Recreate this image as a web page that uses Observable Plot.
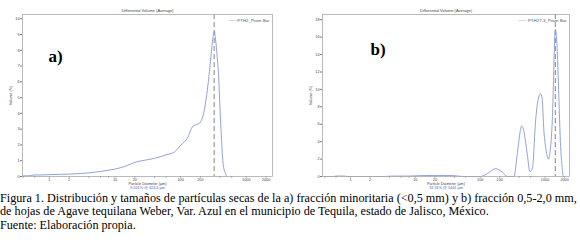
<!DOCTYPE html>
<html><head><meta charset="utf-8">
<script src="https://cdn.jsdelivr.net/npm/d3@7"></script>
<script src="https://cdn.jsdelivr.net/npm/@observablehq/plot@0.6"></script>
<style>
body{margin:0;background:#fff;}
#wrap{position:relative;width:580px;height:245px;overflow:hidden;}
#charts{display:flex;}
#cap{position:absolute;left:0;top:192px;font-family:"Liberation Serif","Times New Roman",serif;font-size:12.2px;line-height:13.3px;color:#000;white-space:nowrap;}
</style></head>
<body><div id="wrap"><div id="charts"></div><div id="cap"></div></div>
<script>
// ---- data ----
const xTicks = [0.4,0.6,1,2,4,6,8,10,20,40,60,100,200,400,600,1000,2000];
const aDiam = [0.4,0.5,0.6,0.8,1,2,3,4,6,8,10,15,20,30,40,60,80,100,125,155,178,200,224,250,290,310,326,340,360,380,395,413,443,480,510];
const aVol  = [0.04,0.05,0.1,0.1,0.12,0.15,0.19,0.23,0.32,0.4,0.47,0.68,0.9,1.05,1.15,1.38,1.55,1.98,2.4,3.2,3.3,3.45,4.0,5.2,7.6,8.8,9.2,8.7,7.6,6.3,4.6,2.9,0.84,0.2,0];
const bDiam = [0.4,0.55,0.6,0.7,0.8,0.9,1,2,3.5,4,6,8,10,12,20,30,40,45,60,100,130,172,220,261,330,373,410,434,469,500,531,584,640,714,790,853,900,959,1050,1122,1200,1291,1350,1400,1441,1490,1550,1600,1740,1850,1908,2000];
const bVol  = [0,0,0.05,0.06,0.05,0,0,0,0,0.04,0.05,0.05,0.08,0.1,0.12,0.12,0.1,0.05,0,0,0.35,0.9,0.5,0,0,2.6,5.0,5.8,5.25,4.0,2.6,0.55,1.0,6.4,9.0,9.5,9.0,5.25,2.8,2.0,3.0,6.4,11,15.5,16.9,16.2,14,11,3.3,0.8,0,0];
const panels = [
  {label:"a)", legend:"PTH2_Prom Bar", mode:"9.201% @ 324.4 µm", modeX:324.4,
   diam:aDiam, vol:aVol, yTicks:d3.range(0,11,1), yMax:10.27, xDom:[0.39,2509],
   mL:22, mR:18, labDx:26, labDy:47},
  {label:"b)", legend:"PTH27-3_Prom Bar", mode:"16.91% @ 1441 µm", modeX:1441,
   diam:bDiam, vol:bVol, yTicks:d3.range(0,19,2), yMax:18.6, xDom:[0.37,2380],
   mL:32, mR:11, labDx:48, labDy:40}
];
const title = "Differential Volume (Average)";
const xLabel = "Particle Diameter (µm)";
const yLabel = "Volume (%)";
const caption = [
 "Figura 1. Distribución y tamaños de partículas secas de la a) fracción minoritaria (<0,5 mm) y b) fracción 0,5-2,0 mm,",
 "de hojas de Agave tequilana Weber, Var. Azul en el municipio de Tequila, estado de Jalisco, México.",
 "Fuente: Elaboración propia."
];
const lineColor = "#8797d6";
// ---- charts ----
for (const p of panels) {
  const rows = p.diam.map((d,i)=>({d, v:p.vol[i]}));
  const chart = Plot.plot({
    width:290, height:197, marginLeft:p.mL, marginRight:p.mR, marginTop:14, marginBottom:21,
    style:{fontSize:"4px", fontFamily:"Liberation Sans, Arial, sans-serif", background:"transparent", overflow:"visible"},
    x:{type:"log", domain:p.xDom},
    y:{domain:[0,p.yMax]},
    marks:[
      Plot.axisX({ticks:xTicks, tickFormat:d=>String(d), tickSize:1.5, tickPadding:0.5, fontSize:3.8, stroke:"#777", fill:"#444", label:null}),
      Plot.axisY({ticks:p.yTicks, tickSize:2, tickPadding:1, fontSize:3.8, stroke:"#777", fill:"#444",
                  label:yLabel, labelAnchor:"center", labelArrow:"none", labelOffset:13}),
      Plot.ruleX([p.modeX], {stroke:"#9a9a9a", strokeWidth:1.2, strokeDasharray:"5,3"}),
      Plot.line(rows, {x:"d", y:"v", stroke:lineColor, strokeWidth:0.9, curve:"monotone-x"}),
      Plot.frame({stroke:"#aaa", strokeWidth:0.8}),
      Plot.text([title], {frameAnchor:"top", dy:-5, fontSize:4, fill:"#444"}),
      Plot.text([p.legend], {frameAnchor:"top-right", dx:-3, dy:4, textAnchor:"end", fontSize:4.4, fill:"#555"}),
      Plot.text(["───"], {frameAnchor:"top-right", dx:-4 - p.legend.length*2.45, dy:4, textAnchor:"end", fontSize:4.4,
                fill:lineColor, fontFamily:"DejaVu Sans, sans-serif"}),
      Plot.text([xLabel], {frameAnchor:"bottom", dy:8.3, fontSize:3.8, fill:"#444"}),
      Plot.text([p.mode], {frameAnchor:"bottom", dy:12.6, fontSize:3.8, fill:"#3b5fc8"}),
      Plot.text([p.label], {frameAnchor:"top-left", dx:p.labDx, dy:p.labDy, textAnchor:"start", lineAnchor:"bottom",
                fontSize:17, fontWeight:"bold", fill:"#000", fontFamily:"Liberation Serif, Times New Roman, serif"})
    ]
  });
  document.getElementById("charts").appendChild(chart);
}
document.getElementById("cap").innerHTML = caption.map(t=>t.replace(/</g,"&lt;")).join("<br>");
</script></body></html>
